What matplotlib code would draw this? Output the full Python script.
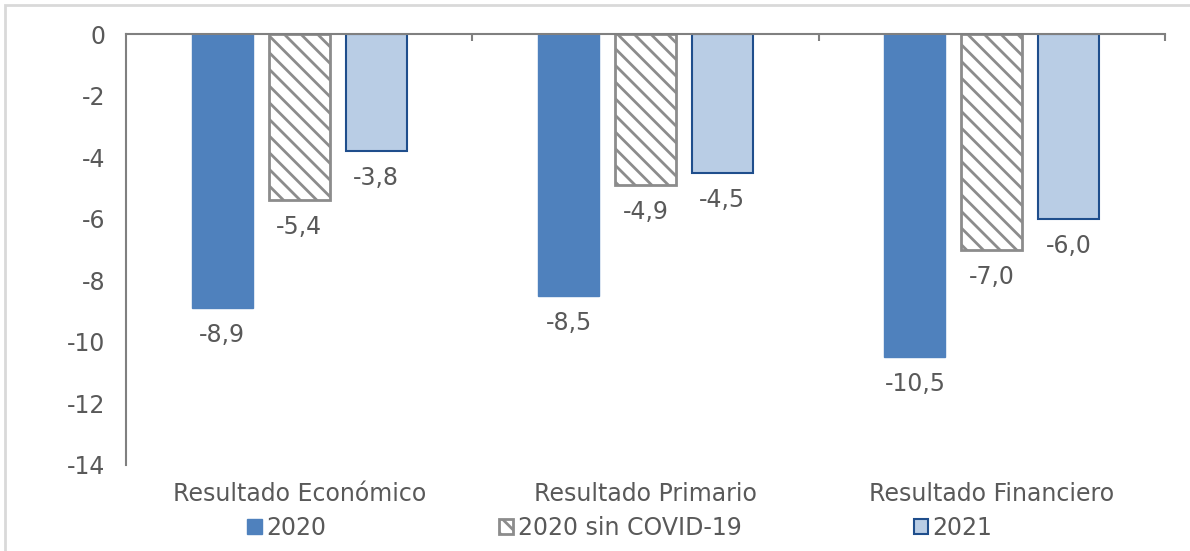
import numpy as np
import matplotlib
matplotlib.use('Agg')
import matplotlib.pyplot as plt
import matplotlib.patches as patches

plt.rcParams['font.family'] = ['DejaVu Sans']
plt.rcParams['hatch.linewidth'] = 2.0
plt.rcParams['hatch.color'] = '#8c8c8c'

categorias = ['Resultado Económico', 'Resultado Primario', 'Resultado Financiero']
series = ['2020', '2020 sin COVID-19', '2021']
v2020 = [-8.9, -8.5, -10.5]
v2020_sin = [-5.4, -4.9, -7.0]
v2021 = [-3.8, -4.5, -6.0]

txt = '#595959'
fs = 17
fig = plt.figure(figsize=(11.9, 5.51), dpi=100)
ax = fig.add_axes([126/1190, 1-465/551, (1165-126)/1190, (465-34)/551])

# marco del gráfico
fig.patches.append(patches.Rectangle((5/1190, -0.1), 1.2, 1.1-5/551, transform=fig.transFigure,
                                     fill=False, edgecolor='#d9d9d9', lw=2))

x = np.arange(len(categorias))
w = 0.176
d = 0.222
b1 = ax.bar(x-d, v2020, w, color='#4f81bd', edgecolor='#4f81bd', label=series[0])
b2 = ax.bar(x, v2020_sin, w, color='white', edgecolor='#8c8c8c', hatch='\\\\', lw=2, label=series[1])
b3 = ax.bar(x+d, v2021, w, color='#b9cde5', edgecolor='#1f4e8c', lw=1.5, label=series[2])

for bars in (b1, b2, b3):
    for r in bars:
        v = r.get_height()
        ax.annotate(('%.1f' % v).replace('.', ','), (r.get_x()+r.get_width()/2, v),
                    xytext=(0, -19.5), textcoords='offset points', ha='center', va='center',
                    fontsize=fs, color=txt)

ax.set_xlim(-0.5, 2.5)
ax.set_ylim(-14, 0)
ax.set_yticks(np.arange(-14, 1, 2))
ax.set_yticklabels([str(t) for t in np.arange(-14, 1, 2)])
ax.set_xticks(x)
ax.set_xticklabels(categorias)
ax.tick_params(axis='x', length=0, pad=12, labelsize=fs, labelcolor=txt)
ax.tick_params(axis='y', length=0, pad=15, labelsize=fs, labelcolor=txt)
ax.set_xticks([0.5, 1.5, 2.5], minor=True)
ax.tick_params(axis='x', which='minor', top=True, bottom=False, direction='in', length=5, width=1.5, color='#808080')
ax.set_yticks([-14], minor=True)
ax.tick_params(axis='y', which='minor', direction='in', length=6, width=1.5, color='#808080')

for s in ('right', 'bottom'):
    ax.spines[s].set_visible(False)
for s in ('left', 'top'):
    ax.spines[s].set_color('#808080')
    ax.spines[s].set_linewidth(1.5)

leg = fig.legend(handles=[b1, b2, b3], loc='center', bbox_to_anchor=(620/1190, 1-528/551), ncol=3,
                 frameon=False, fontsize=fs, handlelength=0.6, handleheight=0.6, handletextpad=0.2,
                 columnspacing=7.3)
for t in leg.get_texts():
    t.set_color(txt)

fig.savefig('out.png', dpi=100)
